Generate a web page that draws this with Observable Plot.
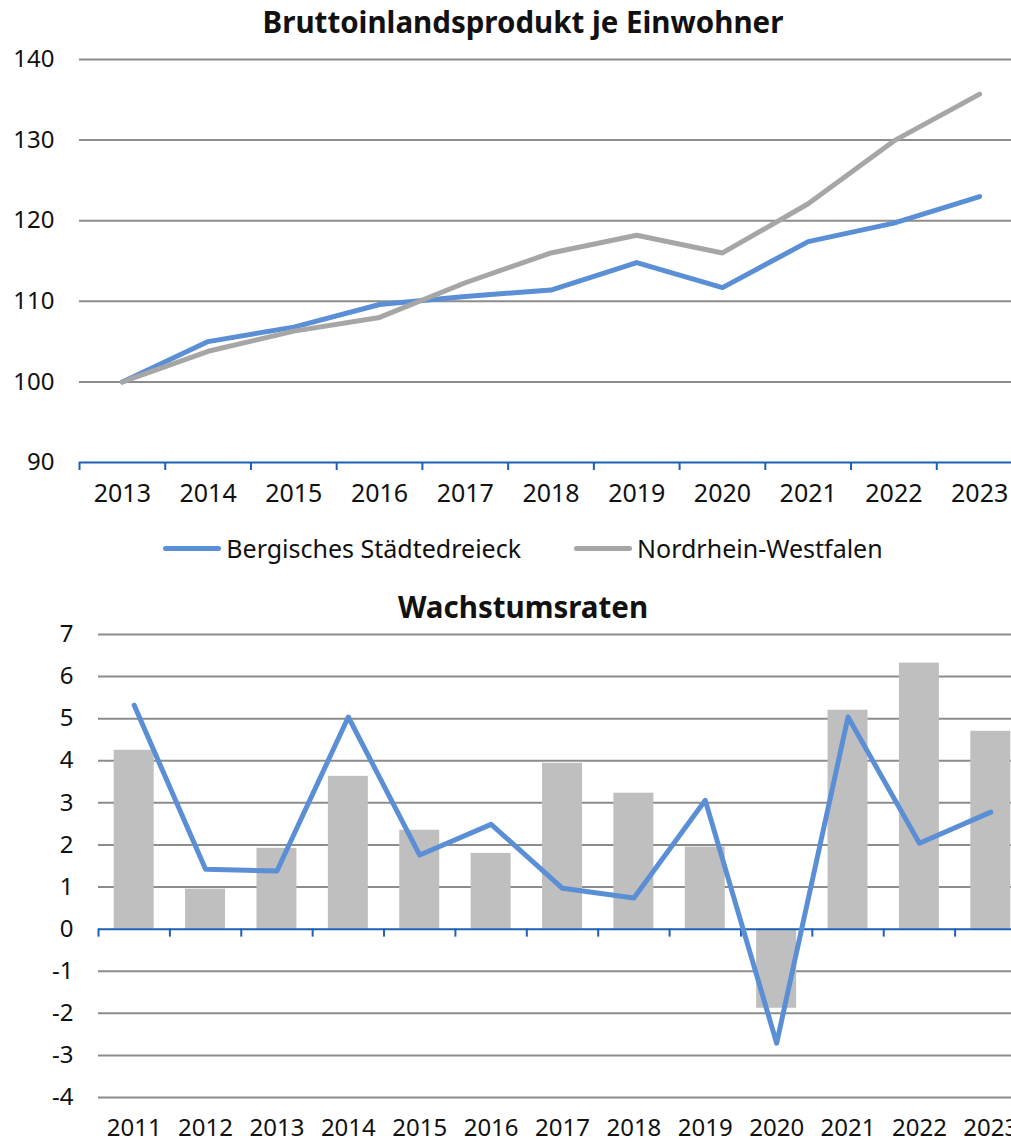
<!DOCTYPE html>
<html>
<head>
<meta charset="utf-8">
<script src="https://cdn.jsdelivr.net/npm/d3@7"></script>
<script src="https://cdn.jsdelivr.net/npm/@observablehq/plot@0.6"></script>
<style>
  html, body { margin: 0; padding: 0; background: #fff; }
  body { font-family: "Noto Sans", sans-serif; color: #111; }
  #wrap { position: relative; width: 1011px; height: 1142px; overflow: hidden; }
  .title { position: absolute; left: 0; width: 1046px; text-align: center; font-weight: bold; font-size: 29.5px; line-height: 34px; color: #111; }
  .chart { position: absolute; left: 0; }
  .legend { position: absolute; left: 0; width: 1046px; display: flex; justify-content: center; align-items: center; font-size: 25px; line-height: 30px; color: #111; }
  .legend .item { display: flex; align-items: center; }
  .legend .sw { width: 58px; height: 5px; border-radius: 3px; margin-right: 5px; }
  .legend .item + .item { margin-left: 53px; }
</style>
</head>
<body>
<div id="wrap">
  <div class="title" id="t1" style="top:5px"></div>
  <div class="chart" id="c1" style="top:40px"></div>
  <div class="legend" id="lg" style="top:533px"></div>
  <div class="title" id="t2" style="top:590px"></div>
  <div class="chart" id="c2" style="top:620px"></div>
</div>
<script>
// ---- Data: chart 1 (index, 2013 = 100)
const title1 = "Bruttoinlandsprodukt je Einwohner";
const years1 = [2013, 2014, 2015, 2016, 2017, 2018, 2019, 2020, 2021, 2022, 2023];
const seriesNames = ["Bergisches Städtedreieck", "Nordrhein-Westfalen"];
const bergisch = [100, 105.0, 106.8, 109.6, 110.6, 111.4, 114.8, 111.7, 117.4, 119.7, 123.0];
const nrw = [100, 103.8, 106.3, 108.0, 112.3, 116.0, 118.2, 116.0, 122.1, 129.9, 135.7];
const yTicks1 = [90, 100, 110, 120, 130, 140];

// ---- Data: chart 2 (growth rates, %)
const title2 = "Wachstumsraten";
const years2 = [2011, 2012, 2013, 2014, 2015, 2016, 2017, 2018, 2019, 2020, 2021, 2022, 2023];
const nrwRate = [4.25, 0.95, 1.92, 3.63, 2.35, 1.80, 3.94, 3.23, 1.95, -1.88, 5.20, 6.32, 4.70];
const bergRate = [5.32, 1.42, 1.38, 5.04, 1.76, 2.49, 0.97, 0.74, 3.06, -2.71, 5.04, 2.04, 2.78];
const yTicks2 = [-4, -3, -2, -1, 0, 1, 2, 3, 4, 5, 6, 7];

const colors = {blue: "#5a8fd6", gray: "#a6a6a6", bar: "#bfbfbf", grid: "#8c8c8c", axis: "#1f5fb4"};

document.getElementById("t1").textContent = title1;
document.getElementById("t2").textContent = title2;

// legend
const lg = document.getElementById("lg");
[[seriesNames[0], colors.blue], [seriesNames[1], colors.gray]].forEach(([name, c]) => {
  const it = document.createElement("div"); it.className = "item";
  const sw = document.createElement("div"); sw.className = "sw"; sw.style.background = c;
  const tx = document.createElement("span"); tx.textContent = name;
  it.append(sw, tx); lg.append(it);
});

const halfBounds = (ys) => [ys[0] - 0.5, ...ys.map(y => y + 0.5)];

// ---- Chart 1
const lineData = [
  ...years1.map((y, i) => ({year: y, value: bergisch[i], series: seriesNames[0]})),
  ...years1.map((y, i) => ({year: y, value: nrw[i], series: seriesNames[1]}))
];
const bounds1 = halfBounds(years1);
const chart1 = Plot.plot({
  width: 1011, height: 480,
  marginTop: 19, marginBottom: 58, marginLeft: 79, marginRight: 0,
  x: {type: "linear", domain: [bounds1[0], bounds1[bounds1.length - 1]], range: [79, 1022], label: null},
  y: {domain: [yTicks1[0], yTicks1[yTicks1.length - 1]], label: null},
  style: {fontFamily: "Noto Sans", fontSize: "24px", color: "#111", background: "transparent", overflow: "visible"},
  marks: [
    Plot.ruleY(yTicks1.slice(1), {stroke: colors.grid, strokeWidth: 2}),
    Plot.ruleY([yTicks1[0]], {stroke: colors.axis, strokeWidth: 2}),
    Plot.ruleX(bounds1, {x: d => d, y1: yTicks1[0], y2: yTicks1[0], insetBottom: -8, stroke: colors.axis, strokeWidth: 2}),
    Plot.axisX({ticks: years1, tickSize: 0, tickPadding: 22, tickFormat: d => String(d), fontSize: 25, label: null}),
    Plot.axisY({ticks: yTicks1, tickSize: 0, tickPadding: 25, tickFormat: d => String(d), fontSize: 24, label: null}),
    Plot.lineY(lineData.filter(d => d.series === seriesNames[0]), {x: "year", y: "value", stroke: colors.blue, strokeWidth: 5}),
    Plot.lineY(lineData.filter(d => d.series === seriesNames[1]), {x: "year", y: "value", stroke: colors.gray, strokeWidth: 5})
  ]
});
document.getElementById("c1").append(chart1);

// ---- Chart 2
const rateData = years2.map((y, i) => ({year: y, nrw: nrwRate[i], berg: bergRate[i]}));
const bounds2 = halfBounds(years2);
const chart2 = Plot.plot({
  width: 1011, height: 522,
  marginTop: 14, marginBottom: 45, marginLeft: 98, marginRight: 0,
  x: {type: "linear", domain: [bounds2[0], bounds2[bounds2.length - 1]], range: [98, 1026], label: null},
  y: {domain: [yTicks2[0], yTicks2[yTicks2.length - 1]], label: null},
  style: {fontFamily: "Noto Sans", fontSize: "24px", color: "#111", background: "transparent", overflow: "visible"},
  marks: [
    Plot.ruleY(yTicks2.filter(v => v !== 0), {stroke: colors.grid, strokeWidth: 2}),
    Plot.rectY(rateData, {x1: d => d.year - 0.28, x2: d => d.year + 0.28, y: "nrw", fill: colors.bar}),
    Plot.ruleY([0], {stroke: colors.axis, strokeWidth: 2}),
    Plot.ruleX(bounds2, {x: d => d, y1: 0, y2: 0, insetBottom: -8, stroke: colors.axis, strokeWidth: 2}),
    Plot.axisX({ticks: years2, tickSize: 0, tickPadding: 21, tickFormat: d => String(d), fontSize: 24, label: null}),
    Plot.axisY({ticks: yTicks2, tickSize: 0, tickPadding: 25, tickFormat: d => String(d), fontSize: 24, label: null}),
    Plot.lineY(rateData, {x: "year", y: "berg", stroke: colors.blue, strokeWidth: 5})
  ]
});
document.getElementById("c2").append(chart2);
</script>
</body>
</html>
